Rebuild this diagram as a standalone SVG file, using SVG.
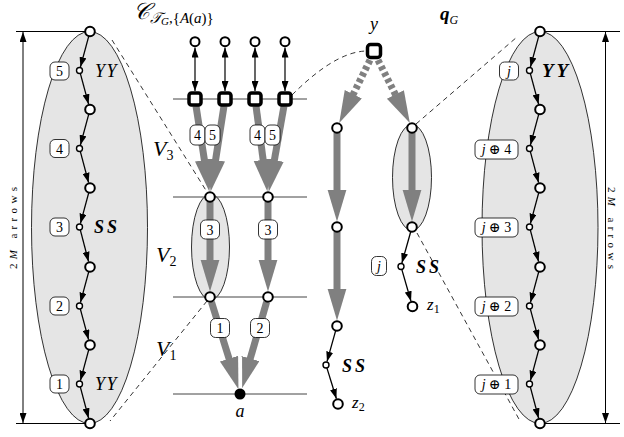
<svg xmlns="http://www.w3.org/2000/svg" width="624" height="437" viewBox="0 0 624 437">
<style>
.lc{fill:#fff;stroke:#000;stroke-width:2}
.sc{fill:#fff;stroke:#000;stroke-width:1.4}
.sq{fill:#fff;stroke:#000;stroke-width:3.5}
.bx{fill:#fff;stroke:#000;stroke-width:0.8}
.ar{stroke:#000;stroke-width:1.3;fill:none;marker-end:url(#ah)}
.da{stroke:#000;stroke-width:1.2;fill:none;marker-end:url(#ah);marker-start:url(#ahs)}
.ga{stroke:#808080;stroke-width:7;fill:none;marker-end:url(#gh)}
.gd{stroke:#808080;stroke-width:7;fill:none;stroke-dasharray:4 3;marker-end:url(#gh)}
.hl{stroke:#444;stroke-width:1}
.dl{stroke:#000;stroke-width:0.8;stroke-dasharray:5 4;fill:none}
.el{fill:#e5e5e5;stroke:#000;stroke-width:0.8}
.dim{stroke:#000;stroke-width:1}
text{font-family:"Liberation Serif","DejaVu Serif",serif;fill:#000}
.n{font-size:14px;text-anchor:middle}
.it{font-style:italic}
.bi{font-style:italic;font-weight:bold}
.yy{font-style:italic;font-size:18px;letter-spacing:1.5px}
.ss{font-style:italic;font-weight:bold;font-size:18px;letter-spacing:3px}
</style>
<defs>
<marker id="ah" markerUnits="userSpaceOnUse" markerWidth="10" markerHeight="7" refX="10" refY="3.5" orient="auto"><path d="M0,0 L10,3.5 L0,7 z" fill="#000"/></marker>
<marker id="ahs" markerUnits="userSpaceOnUse" markerWidth="10" markerHeight="7" refX="10" refY="3.5" orient="auto-start-reverse"><path d="M0,0 L10,3.5 L0,7 z" fill="#000"/></marker>
<marker id="gh" markerUnits="userSpaceOnUse" markerWidth="33" markerHeight="20" refX="2" refY="9.5" orient="auto"><path d="M0,0 L32,9.5 L0,19 z" fill="#808080"/></marker>
<marker id="gh2" markerUnits="userSpaceOnUse" markerWidth="33" markerHeight="20" refX="2" refY="9.5" orient="auto"><path d="M0,0 L32,9.5 L0,19 z" fill="#808080"/><path d="M0.5,18.5 L31,9.6" stroke="#fff" stroke-width="1.2"/></marker>
</defs>

<!-- ellipses -->
<ellipse class="el" cx="89.5" cy="227.5" rx="58" ry="196"/>
<ellipse class="el" cx="540" cy="227.5" rx="58" ry="196"/>
<ellipse class="el" cx="210.5" cy="247" rx="19" ry="53"/>
<ellipse class="el" cx="412" cy="177.5" rx="19.5" ry="53"/>

<!-- horizontal rules -->
<line class="hl" x1="173" y1="99" x2="307" y2="99"/>
<line class="hl" x1="173" y1="197" x2="307" y2="197"/>
<line class="hl" x1="173" y1="297" x2="307" y2="297"/>
<line class="hl" x1="173" y1="394" x2="307" y2="394"/>

<!-- dimension lines -->
<line class="dim" x1="16" y1="31.5" x2="85" y2="31.5"/>
<line class="dim" x1="16" y1="423.5" x2="85" y2="423.5"/>
<line class="dim" x1="23" y1="32" x2="23" y2="423" style="marker-start:url(#ahs);marker-end:url(#ah)"/>
<line class="dim" x1="545" y1="31.5" x2="620" y2="31.5"/>
<line class="dim" x1="545" y1="423.5" x2="620" y2="423.5"/>
<line class="dim" x1="605.5" y1="32" x2="605.5" y2="423" style="marker-start:url(#ahs);marker-end:url(#ah)"/>
<text transform="translate(17,228) rotate(-90)" font-size="11" text-anchor="middle" textLength="82" lengthAdjust="spacing">2<tspan class="it">M</tspan> arrows</text>
<text transform="translate(608,228) rotate(90)" font-size="11" text-anchor="middle" textLength="82" lengthAdjust="spacing">2<tspan class="it">M</tspan> arrows</text>

<g id="connectors">
<!-- zoom dashed lines -->
<line class="dl" x1="112" y1="40" x2="207" y2="192"/>
<line class="dl" x1="207" y1="301" x2="110" y2="421"/>
<path class="dl" d="M292,95 Q335,52 366,51"/>
<line class="dl" x1="416" y1="124" x2="517" y2="37"/>
<line class="dl" x1="417" y1="233" x2="520" y2="421"/>
<!-- left chain -->
<line class="ar" x1="88.7" y1="36.3" x2="80.4" y2="67.1"/>
<line class="ar" x1="80.3" y1="73.4" x2="88.6" y2="104.2"/>
<line class="ar" x1="88.7" y1="114.3" x2="80.4" y2="145.1"/>
<line class="ar" x1="80.3" y1="151.4" x2="88.6" y2="182.7"/>
<line class="ar" x1="88.7" y1="192.8" x2="80.4" y2="223.6"/>
<line class="ar" x1="80.3" y1="229.9" x2="88.6" y2="261.7"/>
<line class="ar" x1="88.7" y1="271.8" x2="80.4" y2="302.6"/>
<line class="ar" x1="80.3" y1="308.9" x2="88.6" y2="339.7"/>
<line class="ar" x1="88.7" y1="349.8" x2="80.4" y2="380.6"/>
<line class="ar" x1="80.3" y1="386.9" x2="88.6" y2="418.2"/>
<!-- right chain -->
<line class="ar" x1="538.7" y1="36.3" x2="530.4" y2="67.1"/>
<line class="ar" x1="530.3" y1="73.4" x2="538.6" y2="104.2"/>
<line class="ar" x1="538.7" y1="114.3" x2="530.4" y2="145.1"/>
<line class="ar" x1="530.3" y1="151.4" x2="538.6" y2="182.7"/>
<line class="ar" x1="538.7" y1="192.8" x2="530.4" y2="223.6"/>
<line class="ar" x1="530.3" y1="229.9" x2="538.6" y2="261.7"/>
<line class="ar" x1="538.7" y1="271.8" x2="530.4" y2="302.6"/>
<line class="ar" x1="530.3" y1="308.9" x2="538.6" y2="339.7"/>
<line class="ar" x1="538.7" y1="349.8" x2="530.4" y2="380.6"/>
<line class="ar" x1="530.3" y1="386.9" x2="538.6" y2="418.2"/>
<!-- top double arrows -->
<line class="da" x1="195" y1="47.5" x2="195" y2="91"/>
<line class="da" x1="225" y1="47.5" x2="225" y2="91"/>
<line class="da" x1="255" y1="47.5" x2="255" y2="91"/>
<line class="da" x1="285" y1="47.5" x2="285" y2="91"/>
<!-- gray arrows -->
<line class="ga" x1="196" y1="106" x2="204.7" y2="161.9"/>
<line class="ga" x1="224" y1="106" x2="215.3" y2="161.9"/>
<line class="ga" x1="256" y1="106" x2="263.4" y2="161.8"/>
<line class="ga" x1="284" y1="106" x2="274" y2="162.1"/>
<line class="ga" x1="210" y1="202" x2="210" y2="261.5"/>
<line class="ga" x1="268" y1="202" x2="268" y2="261.5"/>
<line class="ga" x1="211.5" y1="302" x2="229.6" y2="360.5"/>
<line class="ga" x1="266.6" y1="302" x2="249.7" y2="360.4" style="marker-end:url(#gh2)"/>
<line class="gd" x1="370" y1="60" x2="352.4" y2="96"/>
<line class="gd" x1="378" y1="60" x2="396.3" y2="96.2"/>
<line class="ga" x1="337" y1="133" x2="337" y2="191.5"/>
<line class="ga" x1="337" y1="232" x2="337" y2="290.5"/>
<line class="ga" x1="412" y1="133" x2="412" y2="191.5"/>
<!-- middle black arrows -->
<line class="ar" x1="335.6" y1="330.8" x2="327" y2="361.6"/>
<line class="ar" x1="326.9" y1="367.9" x2="336.4" y2="398.7"/>
<line class="ar" x1="410.7" y1="231.8" x2="401.9" y2="263.1"/>
<line class="ar" x1="401.8" y1="269.4" x2="411" y2="301.2"/>
</g>

<!-- left chain nodes -->
<g id="L0"><circle class="lc" cx="90" cy="31.5" r="4.8"/></g>
<g id="L1"><circle class="sc" cx="79.5" cy="70.5" r="3"/><rect class="bx" x="50" y="62" width="19" height="18" rx="5"/><text class="n" x="59.5" y="76">5</text><text class="yy" x="95" y="77">YY</text></g>
<g id="L2"><circle class="lc" cx="90" cy="109.5" r="4.8"/></g>
<g id="L3"><circle class="sc" cx="79.5" cy="148.5" r="3"/><rect class="bx" x="50" y="139.5" width="19" height="18" rx="5"/><text class="n" x="59.5" y="153.5">4</text></g>
<g id="L4"><circle class="lc" cx="90" cy="188" r="4.8"/></g>
<g id="L5"><circle class="sc" cx="79.5" cy="227" r="3"/><rect class="bx" x="50" y="218" width="19" height="18" rx="5"/><text class="n" x="59.5" y="232">3</text><text class="ss" x="94" y="233">SS</text></g>
<g id="L6"><circle class="lc" cx="90" cy="267" r="4.8"/></g>
<g id="L7"><circle class="sc" cx="79.5" cy="306" r="3"/><rect class="bx" x="50" y="297" width="19" height="18" rx="5"/><text class="n" x="59.5" y="311">2</text></g>
<g id="L8"><circle class="lc" cx="90" cy="345" r="4.8"/></g>
<g id="L9"><circle class="sc" cx="79.5" cy="384" r="3"/><rect class="bx" x="50" y="375" width="19" height="18" rx="5"/><text class="n" x="59.5" y="389">1</text><text class="yy" x="95" y="390">YY</text></g>
<g id="L10"><circle class="lc" cx="90" cy="423.5" r="4.8"/></g>

<!-- right chain nodes -->
<g id="R0"><circle class="lc" cx="540" cy="31.5" r="4.8"/></g>
<g id="R1"><circle class="sc" cx="529.5" cy="70.5" r="3"/><rect class="bx" x="499.5" y="62" width="19" height="18" rx="5"/><text class="n it" x="509" y="76">j</text><text class="bi" x="542" y="77" font-size="19" letter-spacing="3">YY</text></g>
<g id="R2"><circle class="lc" cx="540" cy="109.5" r="4.8"/></g>
<g id="R3"><circle class="sc" cx="529.5" cy="148.5" r="3"/><rect class="bx" x="475" y="140" width="43" height="19" rx="5"/><text class="n" x="496.5" y="154" font-size="13"><tspan class="it">j</tspan> ⊕ 4</text></g>
<g id="R4"><circle class="lc" cx="540" cy="188" r="4.8"/></g>
<g id="R5"><circle class="sc" cx="529.5" cy="227" r="3"/><rect class="bx" x="475" y="218" width="43" height="19" rx="5"/><text class="n" x="496.5" y="232" font-size="13"><tspan class="it">j</tspan> ⊕ 3</text></g>
<g id="R6"><circle class="lc" cx="540" cy="267" r="4.8"/></g>
<g id="R7"><circle class="sc" cx="529.5" cy="306" r="3"/><rect class="bx" x="475" y="297" width="43" height="19" rx="5"/><text class="n" x="496.5" y="311" font-size="13"><tspan class="it">j</tspan> ⊕ 2</text></g>
<g id="R8"><circle class="lc" cx="540" cy="345" r="4.8"/></g>
<g id="R9"><circle class="sc" cx="529.5" cy="384" r="3"/><rect class="bx" x="475" y="375" width="43" height="19" rx="5"/><text class="n" x="496.5" y="389" font-size="13"><tspan class="it">j</tspan> ⊕ 1</text></g>
<g id="R10"><circle class="lc" cx="540" cy="423.5" r="4.8"/></g>

<!-- middle top -->
<text x="133" y="19" font-size="23" class="it">𝒞<tspan font-size="15" dy="4">𝒯</tspan><tspan font-size="11" dy="2">G</tspan><tspan font-size="15" dy="-2" font-style="normal">,{</tspan><tspan font-size="15">A</tspan><tspan font-size="15" font-style="normal">(</tspan><tspan font-size="15">a</tspan><tspan font-size="15" font-style="normal">)}</tspan></text>
<g id="T1"><circle class="lc" cx="195" cy="41.7" r="4.5"/></g>
<g id="T2"><circle class="lc" cx="225" cy="41.7" r="4.5"/></g>
<g id="T3"><circle class="lc" cx="255" cy="41.7" r="4.5"/></g>
<g id="T4"><circle class="lc" cx="285" cy="41.7" r="4.5"/></g>
<g id="S1"><rect class="sq" x="189" y="93" width="12" height="12" rx="2.5"/></g>
<g id="S2"><rect class="sq" x="219" y="93" width="12" height="12" rx="2.5"/></g>
<g id="S3"><rect class="sq" x="249" y="93" width="12" height="12" rx="2.5"/></g>
<g id="S4"><rect class="sq" x="279" y="93" width="12" height="12" rx="2.5"/></g>
<g id="lab45a"><rect class="bx" x="190" y="125" width="15" height="20" rx="5"/><text class="n" x="197.5" y="140">4</text><rect class="bx" x="205" y="125" width="15" height="20" rx="5"/><text class="n" x="212.5" y="140">5</text></g>
<g id="lab45b"><rect class="bx" x="250" y="125" width="15" height="20" rx="5"/><text class="n" x="257.5" y="140">4</text><rect class="bx" x="265" y="125" width="15" height="20" rx="5"/><text class="n" x="272.5" y="140">5</text></g>
<text class="it" x="153" y="156" font-size="22">V<tspan font-size="14" dy="4" font-style="normal">3</tspan></text>
<text class="it" x="156" y="262" font-size="22">V<tspan font-size="14" dy="4" font-style="normal">2</tspan></text>
<text class="it" x="156" y="356" font-size="22">V<tspan font-size="14" dy="4" font-style="normal">1</tspan></text>
<g id="M1"><circle class="lc" cx="210" cy="197" r="4.8"/></g>
<g id="M2"><circle class="lc" cx="268" cy="197" r="4.8"/></g>
<g id="lab3a"><rect class="bx" x="200.5" y="220" width="19" height="19" rx="5"/><text class="n" x="210" y="234.5">3</text></g>
<g id="lab3b"><rect class="bx" x="258.5" y="220" width="19" height="19" rx="5"/><text class="n" x="268" y="234.5">3</text></g>
<g id="B1"><circle class="lc" cx="210" cy="297" r="4.8"/></g>
<g id="B2"><circle class="lc" cx="268" cy="297" r="4.8"/></g>
<g id="lab1"><rect class="bx" x="210.5" y="318.5" width="19" height="19" rx="5"/><text class="n" x="220" y="333">1</text></g>
<g id="lab2"><rect class="bx" x="250.5" y="318.5" width="19" height="19" rx="5"/><text class="n" x="260" y="333">2</text></g>
<g id="A"><circle cx="240" cy="394" r="5.5" fill="#000"/><text class="it" x="240" y="417" font-size="18" text-anchor="middle">a</text></g>

<!-- middle right -->
<text x="440" y="20" font-size="19" class="bi">q<tspan font-size="12" dy="4" font-weight="normal">G</tspan></text>
<g id="Y"><rect class="sq" x="367.5" y="44.5" width="13" height="13" rx="3"/><text class="it" x="374" y="30" font-size="18" text-anchor="middle">y</text></g>
<g id="P1"><circle class="lc" cx="337" cy="128" r="4.8"/></g>
<g id="P2"><circle class="lc" cx="337" cy="227" r="4.8"/></g>
<g id="P3"><circle class="lc" cx="337" cy="326" r="4.8"/></g>
<g id="P4"><circle class="sc" cx="326" cy="365" r="3"/><text class="ss" x="342" y="372">SS</text></g>
<g id="Z2"><circle class="lc" cx="338" cy="404" r="4.8"/><text class="it" x="352" y="408" font-size="17">z<tspan font-size="12" dy="3" font-style="normal">2</tspan></text></g>
<g id="Q1"><circle class="lc" cx="412" cy="128" r="4.8"/></g>
<g id="Q2"><circle class="lc" cx="412" cy="227" r="4.8"/></g>
<g id="Q3"><circle class="sc" cx="401" cy="266.5" r="3"/><rect class="bx" x="371.5" y="256.5" width="15" height="19" rx="5"/><text class="n it" x="379" y="271">j</text><text class="ss" x="416" y="273">SS</text></g>
<g id="Z1"><circle class="lc" cx="412.5" cy="306.5" r="4.8"/><text class="it" x="427" y="310" font-size="17">z<tspan font-size="12" dy="3" font-style="normal">1</tspan></text></g>
</svg>
